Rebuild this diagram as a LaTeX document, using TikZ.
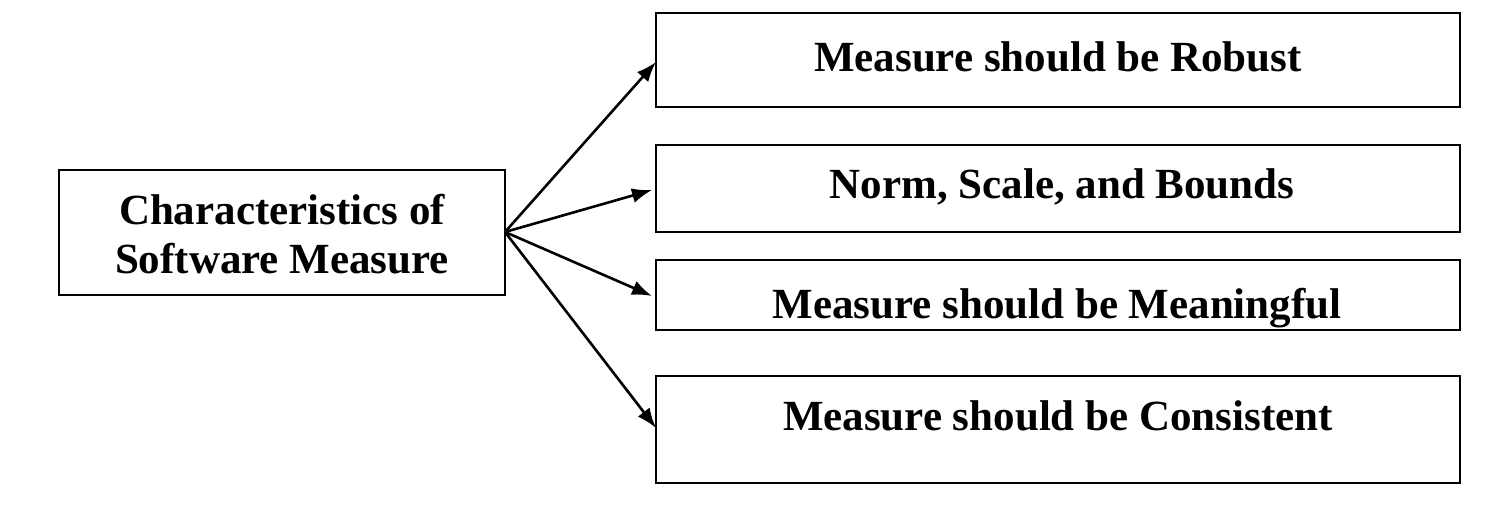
\documentclass[tikz,border=0pt]{standalone}
\usepackage{fontspec}
\setmainfont{Liberation Serif}
\usetikzlibrary{arrows.meta}
\begin{document}
\begin{tikzpicture}[x=1pt,y=-1pt,
  box/.style={draw,line width=2.6pt,inner sep=0pt},
  lbl/.style={font=\fontsize{43}{49}\selectfont\bfseries,align=center},
  arr/.style={line width=2.6pt,-{Latex[length=20pt,width=15pt]}}]
\useasboundingbox (0,0) rectangle (1495,508);
\draw[box] (59,170) rectangle (505,295);
\node[lbl] (c) at (282,234) {Characteristics of\\Software Measure};
\coordinate (s) at (505,232);
\draw[box] (656,13) rectangle (1460,107);
\node[lbl] (a) at (1058,57) {Measure should be Robust};
\draw[box] (656,145) rectangle (1460,232);
\node[lbl] (b) at (1062,187) {Norm, Scale, and Bounds};
\begin{scope}
\clip (656,260) rectangle (1460,330);
\node[lbl,anchor=base] (m) at (1057,318) {Measure should be Meaningful};
\end{scope}
\draw[box] (656,260) rectangle (1460,330);
\draw[box] (656,376) rectangle (1460,483);
\node[lbl] (d) at (1058,416) {Measure should be Consistent};
\coordinate (t1) at (656,62);
\coordinate (t2) at (652,190);
\coordinate (t3) at (652,296);
\coordinate (t4) at (656,428);
\draw[arr] (s) -- (t1);
\draw[arr] (s) -- (t2);
\draw[arr] (s) -- (t3);
\draw[arr] (s) -- (t4);
\end{tikzpicture}
\end{document}
